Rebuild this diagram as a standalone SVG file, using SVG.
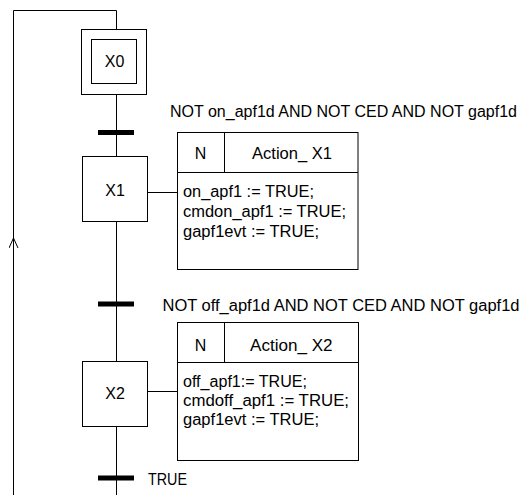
<svg xmlns="http://www.w3.org/2000/svg" width="528" height="495" viewBox="0 0 528 495">
<style>
.ln{fill:none;stroke:#000;stroke-width:1}
.box{fill:#fff;stroke:#000;stroke-width:1}
.bar{fill:#000}
text{font-family:"Liberation Sans",Arial,sans-serif;font-size:16px;fill:#000}
.c{text-anchor:middle}
</style>
<defs>
<marker id="openArrow" markerWidth="12" markerHeight="10" refX="11" refY="5" orient="auto" markerUnits="userSpaceOnUse" viewBox="0 0 12 10">
<path d="M1,0.5 L11,5 L1,9.5" fill="none" stroke="#000" stroke-width="1"/>
</marker>
</defs>
<g id="connectors">
<path class="ln" d="M13.5,495 V10.5 H116.5 V29.5"/>
<path class="ln" d="M13.5,260 V238" marker-end="url(#openArrow)"/>
<path class="ln" d="M116.5,94.5 V156.5"/>
<path class="ln" d="M116.5,221.5 V361.5"/>
<path class="ln" d="M116.5,426.5 V495"/>
<path class="ln" d="M147.5,192.5 H177"/>
<path class="ln" d="M147.5,391.5 H177"/>
<rect class="bar" x="98" y="130" width="36" height="5"/>
<rect class="bar" x="98" y="301.5" width="36" height="5"/>
<rect class="bar" x="98" y="475.5" width="36" height="5"/>
</g>
<g id="X0">
<rect class="box" x="81.5" y="29.5" width="65" height="65"/>
<rect class="box" x="91.5" y="39.5" width="45" height="44"/>
<text class="c" x="114.5" y="67">X0</text>
</g>
<g id="T1">
<text x="170" y="117" textLength="347" lengthAdjust="spacingAndGlyphs">NOT on_apf1d AND NOT CED AND NOT gapf1d</text>
</g>
<g id="X1">
<rect class="box" x="82.5" y="156.5" width="65" height="65"/>
<text class="c" x="115" y="196">X1</text>
</g>
<g id="Action_X1">
<rect class="box" x="177.5" y="132.5" width="180.5" height="137"/>
<path class="ln" d="M177.5,172.5 H358 M224.5,132.5 V172.5"/>
<text class="c" x="200.5" y="159">N</text>
<text x="252" y="159" textLength="80" lengthAdjust="spacingAndGlyphs">Action_ X1</text>
<text x="183" y="197" textLength="131" lengthAdjust="spacingAndGlyphs">on_apf1 := TRUE;</text>
<text x="183" y="217" textLength="163" lengthAdjust="spacingAndGlyphs">cmdon_apf1 := TRUE;</text>
<text x="183" y="237" textLength="136" lengthAdjust="spacingAndGlyphs">gapf1evt := TRUE;</text>
</g>
<g id="T2">
<text x="162.5" y="311" textLength="357" lengthAdjust="spacingAndGlyphs">NOT off_apf1d AND NOT CED AND NOT gapf1d</text>
</g>
<g id="X2">
<rect class="box" x="82.5" y="361.5" width="65" height="65"/>
<text class="c" x="115" y="399">X2</text>
</g>
<g id="Action_X2">
<rect class="box" x="177.5" y="322.5" width="181" height="138"/>
<path class="ln" d="M177.5,362.5 H358.5 M224.5,322.5 V362.5"/>
<text class="c" x="200.5" y="351">N</text>
<text x="250" y="351" textLength="82.5" lengthAdjust="spacingAndGlyphs">Action_ X2</text>
<text x="183" y="387" textLength="124" lengthAdjust="spacingAndGlyphs">off_apf1:= TRUE;</text>
<text x="183" y="406" textLength="166" lengthAdjust="spacingAndGlyphs">cmdoff_apf1 := TRUE;</text>
<text x="183" y="425" textLength="136" lengthAdjust="spacingAndGlyphs">gapf1evt := TRUE;</text>
</g>
<g id="T3">
<text x="148" y="484.5" textLength="39" lengthAdjust="spacingAndGlyphs">TRUE</text>
</g>
</svg>
